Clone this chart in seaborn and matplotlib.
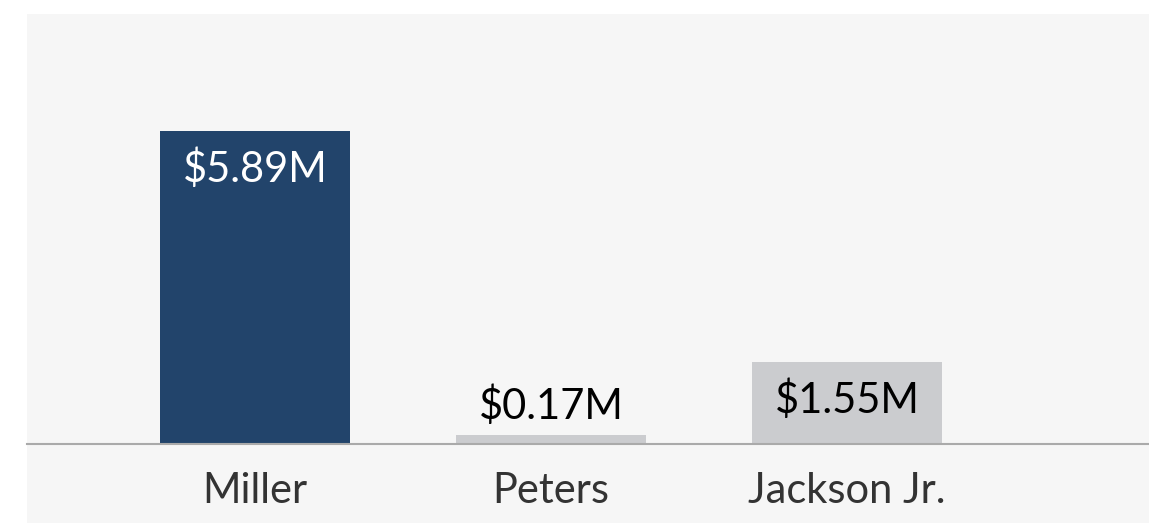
import matplotlib
matplotlib.use("Agg")
import matplotlib.pyplot as plt
import seaborn as sns
import pandas as pd

names = ["Miller", "Peters", "Jackson Jr."]
values = [5.89, 0.17, 1.55]          # $ millions
labels = ["$5.89M", "$0.17M", "$1.55M"]
bar_colors = ["#22446b", "#cbcccf", "#cbcccf"]
label_colors = ["white", "black", "black"]

sns.set_theme(style="white")
plt.rcParams["font.family"] = ["Lato", "DejaVu Sans"]

W, H = 1149, 523
fig = plt.figure(figsize=(W / 100, H / 100), dpi=100)
fig.patch.set_facecolor("white")

# light panel behind the chart
panel = plt.Rectangle((27 / W, 0), 1 - 27 / W, 1 - 14 / H,
                      transform=fig.transFigure, facecolor="#f6f6f6",
                      edgecolor="none", zorder=-10)
fig.add_artist(panel)

ax = fig.add_axes([27 / W, (H - 444) / H, 1 - 27 / W, 430 / H])
ax.set_facecolor("none")
ax.set_zorder(5)

df = pd.DataFrame({"name": names, "value": values})
sns.barplot(data=df, x="name", y="value", hue="name", palette=bar_colors,
            width=190 / 296, legend=False, ax=ax, saturation=1,
            edgecolor="none", linewidth=0)

ax.set_xlim(-228 / 296, 2 + 302 / 296)
ax.set_ylim(0, 5.89 * 430 / 313)

for i, (v, lab, c) in enumerate(zip(values, labels, label_colors)):
    if v > 1.0:
        ax.annotate(lab, (i, v), xytext=(0, -38), textcoords="offset pixels",
                    ha="center", va="center", color=c, fontsize=30)
    else:
        ax.annotate(lab, (i, v), xytext=(0, 29), textcoords="offset pixels",
                    ha="center", va="center", color=c, fontsize=30)

for s in ["top", "right", "left"]:
    ax.spines[s].set_visible(False)
ax.spines["bottom"].set_color("#aaaaaa")
ax.spines["bottom"].set_linewidth(1.5)
ax.spines["bottom"].set_zorder(10)
ax.set_yticks([])
ax.set_xlabel("")
ax.set_ylabel("")
ax.tick_params(axis="x", length=0, pad=20, labelsize=30, labelcolor="#333333")

fig.savefig("out.png", dpi=100, facecolor="white")
